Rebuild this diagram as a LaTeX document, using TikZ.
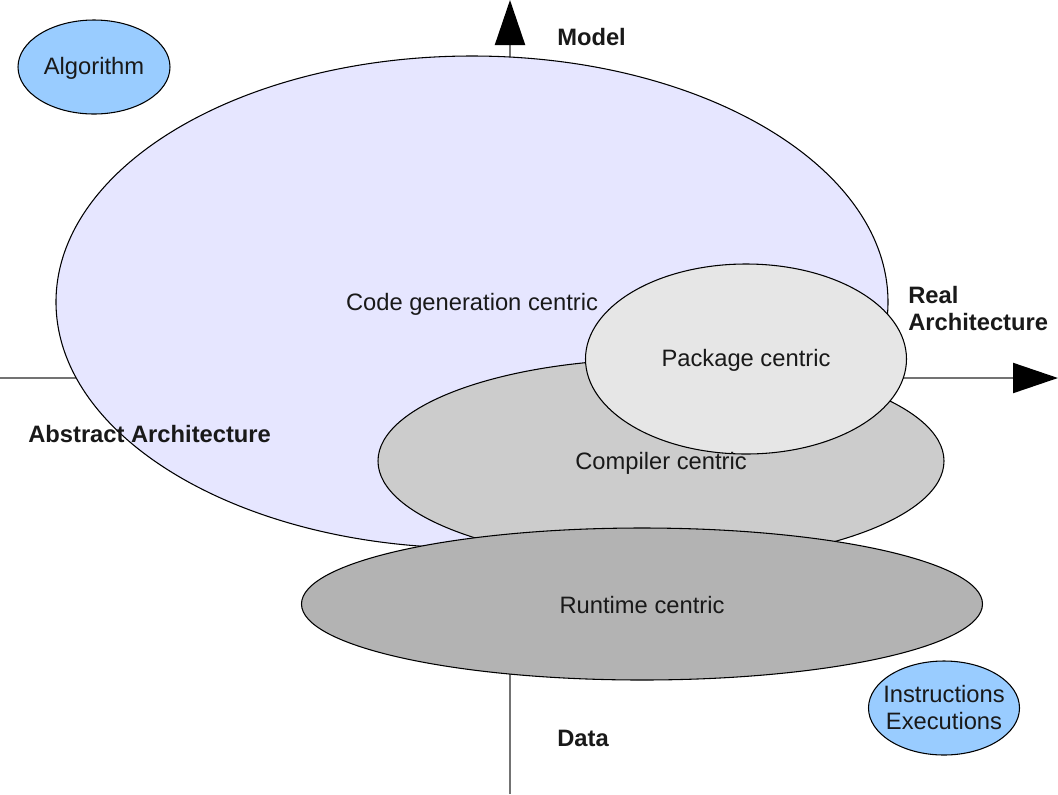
\documentclass[tikz,border=0pt]{standalone}
\usepackage{fontspec}
\setmainfont{Liberation Sans}
\usetikzlibrary{shapes.geometric,arrows.meta}
\tikzset{
  blob/.style={ellipse, draw=black, line width=0.8pt, inner sep=0pt, outer sep=0pt},
  txt/.style={font=\fontsize{17.8}{21}\selectfont, text=black!90, inner sep=0pt},
  btxt/.style={font=\fontsize{17.8}{20.25}\selectfont\bfseries, text=black!90, inner sep=0pt, align=left},
  axis/.style={draw=black!55, line width=1.6pt, -{Triangle[length=33.75pt,width=22.5pt,color=black]}},
}
\definecolor{lightblue}{HTML}{99CCFF}
\definecolor{lavender}{HTML}{E6E6FF}
\definecolor{g1}{HTML}{E6E6E6}
\definecolor{g2}{HTML}{CCCCCC}
\definecolor{g3}{HTML}{B3B3B3}
\begin{document}
\begin{tikzpicture}[x=0.75pt,y=-0.75pt]
\useasboundingbox[fill=white] (0,0) rectangle (1058,794);
% axes
\coordinate (vb) at (510,794);
\coordinate (vt) at (510,0);
\coordinate (hl) at (0,378);
\coordinate (hr) at (1058,378);
\draw[axis] (vb) -- (vt);
\draw[axis] (hl) -- (hr);
% ellipses
\node[blob, fill=lavender, minimum width=832*0.75pt, minimum height=492*0.75pt] (code) at (472,302) {};
\node[blob, fill=g2, minimum width=566*0.75pt, minimum height=204*0.75pt] (comp) at (661,461) {};
\node[blob, fill=g1, minimum width=321*0.75pt, minimum height=190*0.75pt] (pack) at (746,359) {};
\node[blob, fill=g3, minimum width=681*0.75pt, minimum height=152*0.75pt] (run) at (642,604) {};
\node[blob, fill=lightblue, minimum width=152*0.75pt, minimum height=94*0.75pt] (alg) at (94,67) {};
\node[blob, fill=lightblue, minimum width=151*0.75pt, minimum height=94*0.75pt] (ins) at (944,708) {};
% texts
\node[txt] at ([yshift=-1.5pt]code.center) {Code generation centric};
\node[txt] at ([yshift=-1.5pt]comp.center) {Compiler centric};
\node[txt] at ([yshift=-1pt]pack.center) {Package centric};
\node[txt] at ([yshift=-1pt]run.center) {Runtime centric};
\node[txt] at ([yshift=-1pt]alg.center) {Algorithm};
\node[txt, align=center, font=\fontsize{17.8}{20.25}\selectfont] at (ins.center) {Instructions\\Executions};
\node[btxt, anchor=west] (model) at (557,37) {Model};
\node[btxt, anchor=west] (real) at (908,308.5) {Real\\Architecture};
\node[btxt, anchor=west] (abs) at (28,434) {Abstract Architecture};
\node[btxt, anchor=west] (data) at (557,738) {Data};
\end{tikzpicture}
\end{document}
